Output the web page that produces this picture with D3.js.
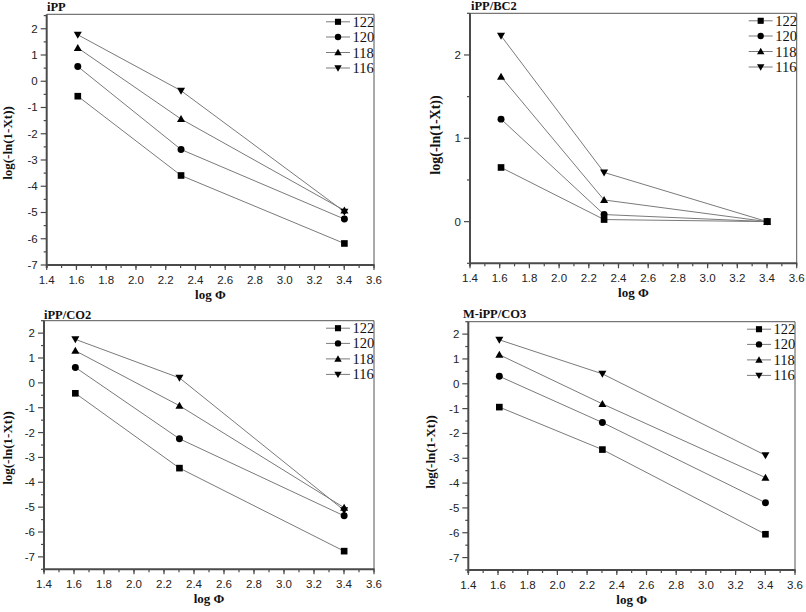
<!DOCTYPE html>
<html>
<head>
<meta charset="utf-8">
<script src="https://cdn.jsdelivr.net/npm/d3@7"></script>
<style>
  html, body { margin: 0; padding: 0; background: #fff; }
  svg { display: block; }
</style>
</head>
<body>
<svg id="chart" width="806" height="612"></svg>
<script>
// ---- data ----
const logPhi = [1.609, 2.303, 3.401];
const seriesNames = ["122", "120", "118", "116"];
const xTicks = [1.4, 1.6, 1.8, 2.0, 2.2, 2.4, 2.6, 2.8, 3.0, 3.2, 3.4, 3.6];

// values per series (122, 120, 118, 116), at each logPhi
const iPP = [
  [-0.57, -3.59, -6.18],
  [0.56, -2.60, -5.25],
  [1.27, -1.44, -4.92],
  [1.77, -0.36, -4.97]
];
const iPP_BC2 = [
  [0.65, 0.025, 0.0],
  [1.23, 0.085, 0.0],
  [1.74, 0.26, 0.0],
  [2.23, 0.59, 0.0]
];
const iPP_CO2 = [
  [-0.42, -3.43, -6.77],
  [0.62, -2.25, -5.35],
  [1.29, -0.92, -5.02],
  [1.75, 0.20, -5.13]
];
const MiPP_CO3 = [
  [-0.94, -2.65, -6.06],
  [0.30, -1.56, -4.79],
  [1.17, -0.81, -3.78],
  [1.77, 0.40, -2.88]
];
const yTicksWide = [-7, -6, -5, -4, -3, -2, -1, 0, 1, 2];
const yTicksBC2 = [0, 1, 2];

const panels = [
  { title: "iPP", data: iPP, left: 46.7, right: 374, top: 14.3, bottom: 265, ydom: [-7, 2.55], yticks: yTicksWide, ylabCY: 143, ylabX: 8, ylabSize: 13, titleX: 47, titleY: 10.5 },
  { title: "iPP/BC2", data: iPP_BC2, left: 470, right: 796.7, top: 13.3, bottom: 263.3, ydom: [-0.5, 2.5], yticks: yTicksBC2, ylabCY: 135, ylabX: 436, ylabSize: 14, titleX: 471, titleY: 10 },
  { title: "iPP/CO2", data: iPP_CO2, left: 44, right: 374, top: 320.7, bottom: 569.3, ydom: [-7.5, 2.5], yticks: yTicksWide, ylabCY: 448, ylabX: 8, ylabSize: 13, titleX: 44, titleY: 319 },
  { title: "M-iPP/CO3", data: MiPP_CO3, left: 468.3, right: 795, top: 321.7, bottom: 570, ydom: [-7.5, 2.5], yticks: yTicksWide, ylabCY: 452, ylabX: 431, ylabSize: 13, titleX: 463, titleY: 318 }
];

const symbolTypes = [d3.symbolSquare, d3.symbolCircle, d3.symbolTriangle, d3.symbolTriangle];
const symbolRot = [0, 0, 0, 180];
const symbolSize = [44, 38, 28, 28];

const svg = d3.select("#chart");
const lineColor = "#7a7a7a";
const axisColor = "#4a4a4a";
const tickFont = "'Liberation Sans', Arial, sans-serif";
const serif = "'Liberation Serif', 'Times New Roman', serif";

panels.forEach(p => {
  const g = svg.append("g");
  const x = d3.scaleLinear().domain([1.4, 3.6]).range([p.left, p.right]);
  const y = d3.scaleLinear().domain(p.ydom).range([p.bottom, p.top]);

  // frame (top/right thin)
  g.append("line").attr("x1", p.left).attr("x2", p.right).attr("y1", p.top).attr("y2", p.top)
    .attr("stroke", "#555").attr("stroke-width", 1);
  g.append("line").attr("x1", p.right).attr("x2", p.right).attr("y1", p.top).attr("y2", p.bottom)
    .attr("stroke", "#555").attr("stroke-width", 1);

  // x axis
  const xMinor = d3.range(14, 37).map(v => v / 10);
  const xAxisG = g.append("g");
  xAxisG.selectAll("line.minor").data(xMinor).join("line")
    .attr("x1", d => x(d)).attr("x2", d => x(d))
    .attr("y1", p.bottom).attr("y2", p.bottom + 3)
    .attr("stroke", axisColor).attr("stroke-width", 1.2);
  xAxisG.selectAll("line.major").data(xTicks).join("line")
    .attr("x1", d => x(d)).attr("x2", d => x(d))
    .attr("y1", p.bottom).attr("y2", p.bottom + 5)
    .attr("stroke", axisColor).attr("stroke-width", 1.2);
  xAxisG.selectAll("text").data(xTicks).join("text")
    .attr("x", d => x(d)).attr("y", p.bottom + 18.5)
    .attr("text-anchor", "middle")
    .attr("font-family", tickFont).attr("font-size", 11.5).attr("fill", "#222")
    .text(d => d.toFixed(1));
  xAxisG.append("line").attr("x1", p.left).attr("x2", p.right + 0.5)
    .attr("y1", p.bottom).attr("y2", p.bottom)
    .attr("stroke", axisColor).attr("stroke-width", 2);

  // y axis
  const yMinor = [];
  for (let v = Math.ceil(p.ydom[0] * 2) / 2; v <= p.ydom[1] + 1e-9; v += 0.5) {
    if (Math.abs(v - Math.round(v)) > 1e-6) yMinor.push(v);
  }
  const yAxisG = g.append("g");
  yAxisG.selectAll("line.minor").data(yMinor).join("line")
    .attr("x1", p.left).attr("x2", p.left - 3)
    .attr("y1", d => y(d)).attr("y2", d => y(d))
    .attr("stroke", axisColor).attr("stroke-width", 1.2);
  yAxisG.selectAll("line.major").data(p.yticks).join("line")
    .attr("x1", p.left).attr("x2", p.left - 6)
    .attr("y1", d => y(d)).attr("y2", d => y(d))
    .attr("stroke", axisColor).attr("stroke-width", 1.2);
  yAxisG.selectAll("text").data(p.yticks).join("text")
    .attr("x", p.left - 9).attr("y", d => y(d) + 4)
    .attr("text-anchor", "end")
    .attr("font-family", tickFont).attr("font-size", 11.5).attr("fill", "#222")
    .text(d => d3.format("d")(d).replace("−", "-"));
  yAxisG.append("line").attr("x1", p.left).attr("x2", p.left)
    .attr("y1", p.top).attr("y2", p.bottom + 3)
    .attr("stroke", axisColor).attr("stroke-width", 2);

  // series lines and markers
  const line = d3.line().x((d, i) => x(logPhi[i])).y(d => y(d));
  p.data.forEach((vals, si) => {
    g.append("path").attr("d", line(vals))
      .attr("fill", "none").attr("stroke", lineColor).attr("stroke-width", 1);
  });
  p.data.forEach((vals, si) => {
    const sym = d3.symbol().type(symbolTypes[si]).size(symbolSize[si]);
    g.selectAll(null).data(vals).join("path")
      .attr("d", sym)
      .attr("transform", (d, i) => `translate(${x(logPhi[i])},${y(d) + (si === 3 ? -0.7 : si === 2 ? 0.7 : 0)}) rotate(${symbolRot[si]})`)
      .attr("fill", "#000");
  });

  // legend
  const lg = g.append("g");
  const rowOff = [7.5, 22.7, 38.2, 53.7];
  seriesNames.forEach((name, si) => {
    const ry = p.top + rowOff[si];
    lg.append("line").attr("x1", p.right - 48).attr("x2", p.right - 24)
      .attr("y1", ry).attr("y2", ry).attr("stroke", lineColor).attr("stroke-width", 1);
    const sym = d3.symbol().type(symbolTypes[si]).size(symbolSize[si] * 0.85);
    lg.append("path").attr("d", sym)
      .attr("transform", `translate(${p.right - 36},${ry + (si === 3 ? -0.6 : si === 2 ? 0.6 : 0)}) rotate(${symbolRot[si]})`)
      .attr("fill", "#000");
    lg.append("text").attr("x", p.right - 21.5).attr("y", ry + 5)
      .attr("font-family", serif).attr("font-size", 14.5).attr("fill", "#111")
      .text(name);
  });

  // title
  g.append("text").attr("x", p.titleX).attr("y", p.titleY)
    .attr("font-family", serif).attr("font-weight", "bold").attr("font-size", 12.5).attr("fill", "#111")
    .text(p.title);

  // axis titles
  g.append("text")
    .attr("transform", `translate(${p.ylabX + 4},${p.ylabCY}) rotate(-90)`)
    .attr("text-anchor", "middle")
    .attr("font-family", serif).attr("font-weight", "bold").attr("font-size", p.ylabSize).attr("fill", "#111")
    .text("log(-ln(1-Xt))");
  g.append("text")
    .attr("x", (p.left + p.right) / 2).attr("y", p.bottom + 34)
    .attr("text-anchor", "middle")
    .attr("font-family", serif).attr("font-weight", "bold").attr("font-size", 13).attr("fill", "#111")
    .text("log Φ");
});
</script>
</body>
</html>
